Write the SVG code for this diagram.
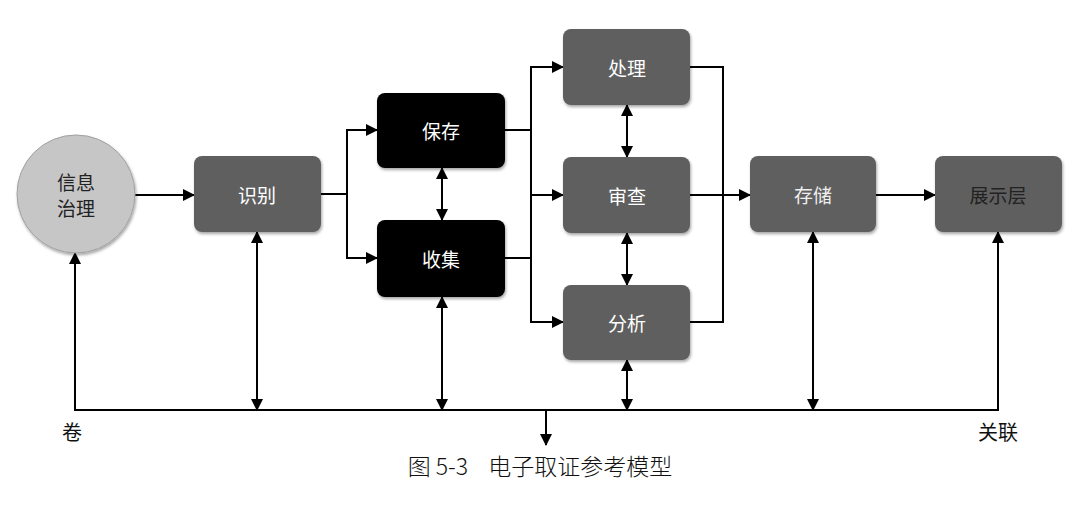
<svg xmlns="http://www.w3.org/2000/svg" width="1080" height="521" viewBox="0 0 1080 521">
<defs>
<marker id="ah" viewBox="0 0 12 12" refX="11" refY="6" markerWidth="12" markerHeight="12" markerUnits="userSpaceOnUse" orient="auto-start-reverse">
<path d="M0,0 L12,6 L0,12 Z" fill="#000"/>
</marker>
<filter id="sh" x="-10%" y="-10%" width="125%" height="130%">
<feDropShadow dx="1" dy="2" stdDeviation="1.5" flood-color="#000" flood-opacity="0.35"/>
</filter>
</defs>
<style>
.g{fill:#5e5e5e;filter:url(#sh)}
.b{fill:#000;filter:url(#sh)}
.t{font-family:"Noto Sans CJK SC","Noto Sans",sans-serif;font-size:19px;text-anchor:middle;dominant-baseline:central}
.w{fill:#fff}
.l{fill:#eee}
.d{fill:#222}
.c line,.c polyline{stroke:#000;stroke-width:2;fill:none}
.lab{font-family:"Noto Sans CJK SC","Noto Sans",sans-serif;font-size:20px;fill:#111}
</style>
<rect width="1080" height="521" fill="#fff"/>
<g class="c">
<line x1="135" y1="195" x2="194" y2="195" marker-end="url(#ah)"/>
<line x1="321" y1="194" x2="347" y2="194"/>
<polyline points="377,130 347,130 347,258 377,258" marker-start="url(#ah)" marker-end="url(#ah)"/>
<line x1="442" y1="168" x2="442" y2="220" marker-start="url(#ah)" marker-end="url(#ah)"/>
<line x1="505" y1="130" x2="531" y2="130"/>
<line x1="505" y1="258" x2="531" y2="258"/>
<polyline points="563,67 531,67 531,322 563,322" marker-start="url(#ah)" marker-end="url(#ah)"/>
<line x1="531" y1="195" x2="563" y2="195" marker-end="url(#ah)"/>
<line x1="627" y1="105" x2="627" y2="157" marker-start="url(#ah)" marker-end="url(#ah)"/>
<line x1="627" y1="233" x2="627" y2="285" marker-start="url(#ah)" marker-end="url(#ah)"/>
<polyline points="690,67 723,67 723,322 690,322"/>
<line x1="690" y1="195" x2="750" y2="195" marker-end="url(#ah)"/>
<line x1="876" y1="195" x2="935" y2="195" marker-end="url(#ah)"/>
<polyline points="998,232 998,410 75,410 75,253" marker-start="url(#ah)" marker-end="url(#ah)"/>
<line x1="257" y1="232" x2="257" y2="410" marker-start="url(#ah)" marker-end="url(#ah)"/>
<line x1="442" y1="297" x2="442" y2="410" marker-start="url(#ah)" marker-end="url(#ah)"/>
<line x1="627" y1="360" x2="627" y2="410" marker-start="url(#ah)" marker-end="url(#ah)"/>
<line x1="813" y1="232" x2="813" y2="410" marker-start="url(#ah)" marker-end="url(#ah)"/>
<line x1="546" y1="410" x2="546" y2="445" marker-end="url(#ah)"/>
</g>
<g id="n-info">
<circle cx="76" cy="194" r="59" fill="#c6c6c6" stroke="#a0a0a0" stroke-width="1" filter="url(#sh)"/>
<text class="t d" x="76" y="181">信息</text>
<text class="t d" x="76" y="207">治理</text>
</g>
<g id="n-shibie">
<rect class="g" x="194" y="156" width="127" height="76" rx="8"/>
<text class="t w" x="257" y="194">识别</text>
</g>
<g id="n-baocun">
<rect class="b" x="377" y="93" width="128" height="75" rx="8"/>
<text class="t w" x="441" y="130">保存</text>
</g>
<g id="n-shouji">
<rect class="b" x="377" y="220" width="128" height="77" rx="8"/>
<text class="t w" x="441" y="258">收集</text>
</g>
<g id="n-chuli">
<rect class="g" x="563" y="29" width="127" height="76" rx="8"/>
<text class="t w" x="627" y="67">处理</text>
</g>
<g id="n-shencha">
<rect class="g" x="563" y="157" width="127" height="76" rx="8"/>
<text class="t w" x="627" y="195">审查</text>
</g>
<g id="n-fenxi">
<rect class="g" x="563" y="285" width="127" height="75" rx="8"/>
<text class="t w" x="627" y="322">分析</text>
</g>
<g id="n-cunchu">
<rect class="g" x="750" y="156" width="126" height="76" rx="8"/>
<text class="t l" x="813" y="194">存储</text>
</g>
<g id="n-zhanshi">
<rect class="g" x="935" y="156" width="127" height="76" rx="8"/>
<text class="t d" x="998" y="194">展示层</text>
</g>
<text class="lab" x="62" y="440">卷</text>
<text class="lab" x="978" y="440">关联</text>
<text x="540" y="475" font-family="Noto Sans CJK SC, sans-serif" font-size="23" font-weight="300" fill="#111" text-anchor="middle" xml:space="preserve">图 5-3    电子取证参考模型</text>
</svg>
